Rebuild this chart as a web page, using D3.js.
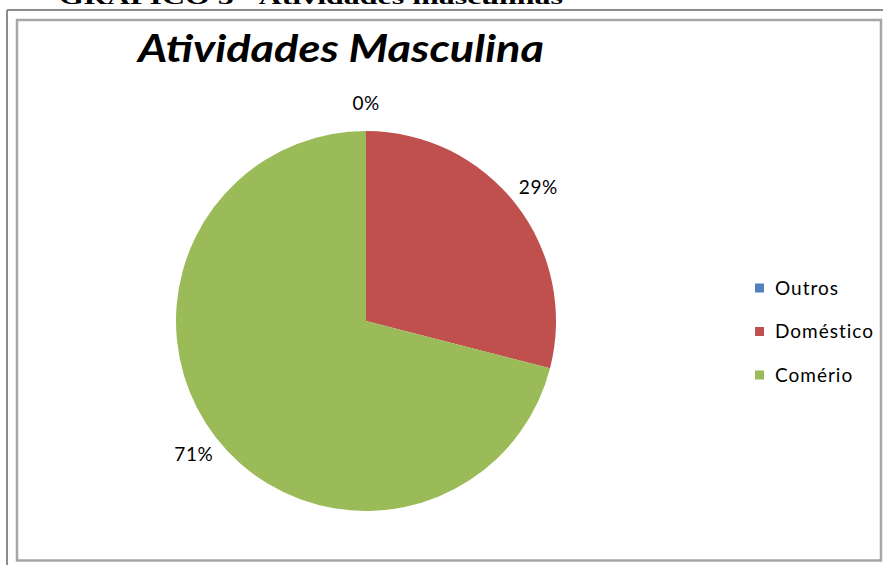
<!DOCTYPE html>
<html>
<head>
<meta charset="utf-8">
<script src="https://cdn.jsdelivr.net/npm/d3@7"></script>
<style>
  body { margin: 0; background: #fff; }
  svg { display: block; }
</style>
</head>
<body>
<div id="root"></div>
<script>
// chart data
const categories = ['Outros', 'Doméstico', 'Comério']
const values = [0, 29, 71]
const colors = ['#4F81BD', '#C0504D', '#9BBB59']
const pctLabels = ['0%', '29%', '71%']

const W = 883, H = 565
const svg = d3.select('#root').append('svg')
  .attr('width', W).attr('height', H)

// caption of the document, cut off by the top edge as in the scan
svg.append('text')
  .attr('x', 59).attr('y', 4)
  .attr('textLength', 504).attr('lengthAdjust', 'spacingAndGlyphs')
  .attr('font-family', 'Liberation Serif, serif')
  .attr('font-weight', 'bold').attr('font-size', 22)
  .attr('fill', '#000')
  .text('GRÁFICO 5 - Atividades masculinas')

// outer frame lines
svg.append('line').attr('x1', 7).attr('y1', 10).attr('x2', 7).attr('y2', H)
  .attr('stroke', '#8c8c8c').attr('stroke-width', 2)
svg.append('line').attr('x1', 7).attr('y1', 10).attr('x2', W).attr('y2', 10)
  .attr('stroke', '#8c8c8c').attr('stroke-width', 2)

// chart area border
svg.append('rect')
  .attr('x', 17).attr('y', 20)
  .attr('width', 864).attr('height', 540.5)
  .attr('fill', '#fff')
  .attr('stroke', '#a6a6a6').attr('stroke-width', 2.5)

// title
svg.append('text')
  .attr('x', 138).attr('y', 62)
  .attr('textLength', 406).attr('lengthAdjust', 'spacingAndGlyphs')
  .attr('font-family', 'Lato, sans-serif')
  .attr('font-weight', 'bold').attr('font-style', 'italic')
  .attr('font-size', 38)
  .attr('fill', '#000')
  .text('Atividades Masculina')

// pie
const cx = 366, cy = 321, r = 190
const pie = d3.pie().sort(null).value(d => d)
const arcs = pie(values)
const arc = d3.arc().innerRadius(0).outerRadius(r)
const labelArc = d3.arc().innerRadius(218).outerRadius(218)

const g = svg.append('g').attr('transform', `translate(${cx},${cy})`)
g.selectAll('path')
  .data(arcs).enter()
  .append('path')
  .attr('d', arc)
  .attr('fill', (d, i) => colors[i])

g.selectAll('text.lbl')
  .data(arcs).enter()
  .append('text')
  .attr('class', 'lbl')
  .attr('transform', d => {
    let c = labelArc.centroid(d)
    return `translate(${c[0]},${c[1]})`
  })
  .attr('text-anchor', 'middle')
  .attr('dy', '0.35em')
  .attr('font-family', 'Lato, sans-serif')
  .attr('font-size', 19)
  .attr('letter-spacing', 0.5)
  .attr('fill', '#000')
  .text((d, i) => pctLabels[i])

// legend
const legendY = d3.scalePoint().domain(categories).range([288, 375])
const legend = svg.selectAll('g.leg')
  .data(categories).enter()
  .append('g')
  .attr('class', 'leg')
  .attr('transform', d => `translate(755,${legendY(d)})`)
legend.append('rect')
  .attr('x', 0).attr('y', -4.5)
  .attr('width', 9).attr('height', 9)
  .attr('fill', (d, i) => colors[i])
legend.append('text')
  .attr('x', 20).attr('dy', '0.35em')
  .attr('font-family', 'Lato, sans-serif')
  .attr('font-size', 19)
  .attr('letter-spacing', 1)
  .attr('fill', '#000')
  .text(d => d)
</script>
</body>
</html>
